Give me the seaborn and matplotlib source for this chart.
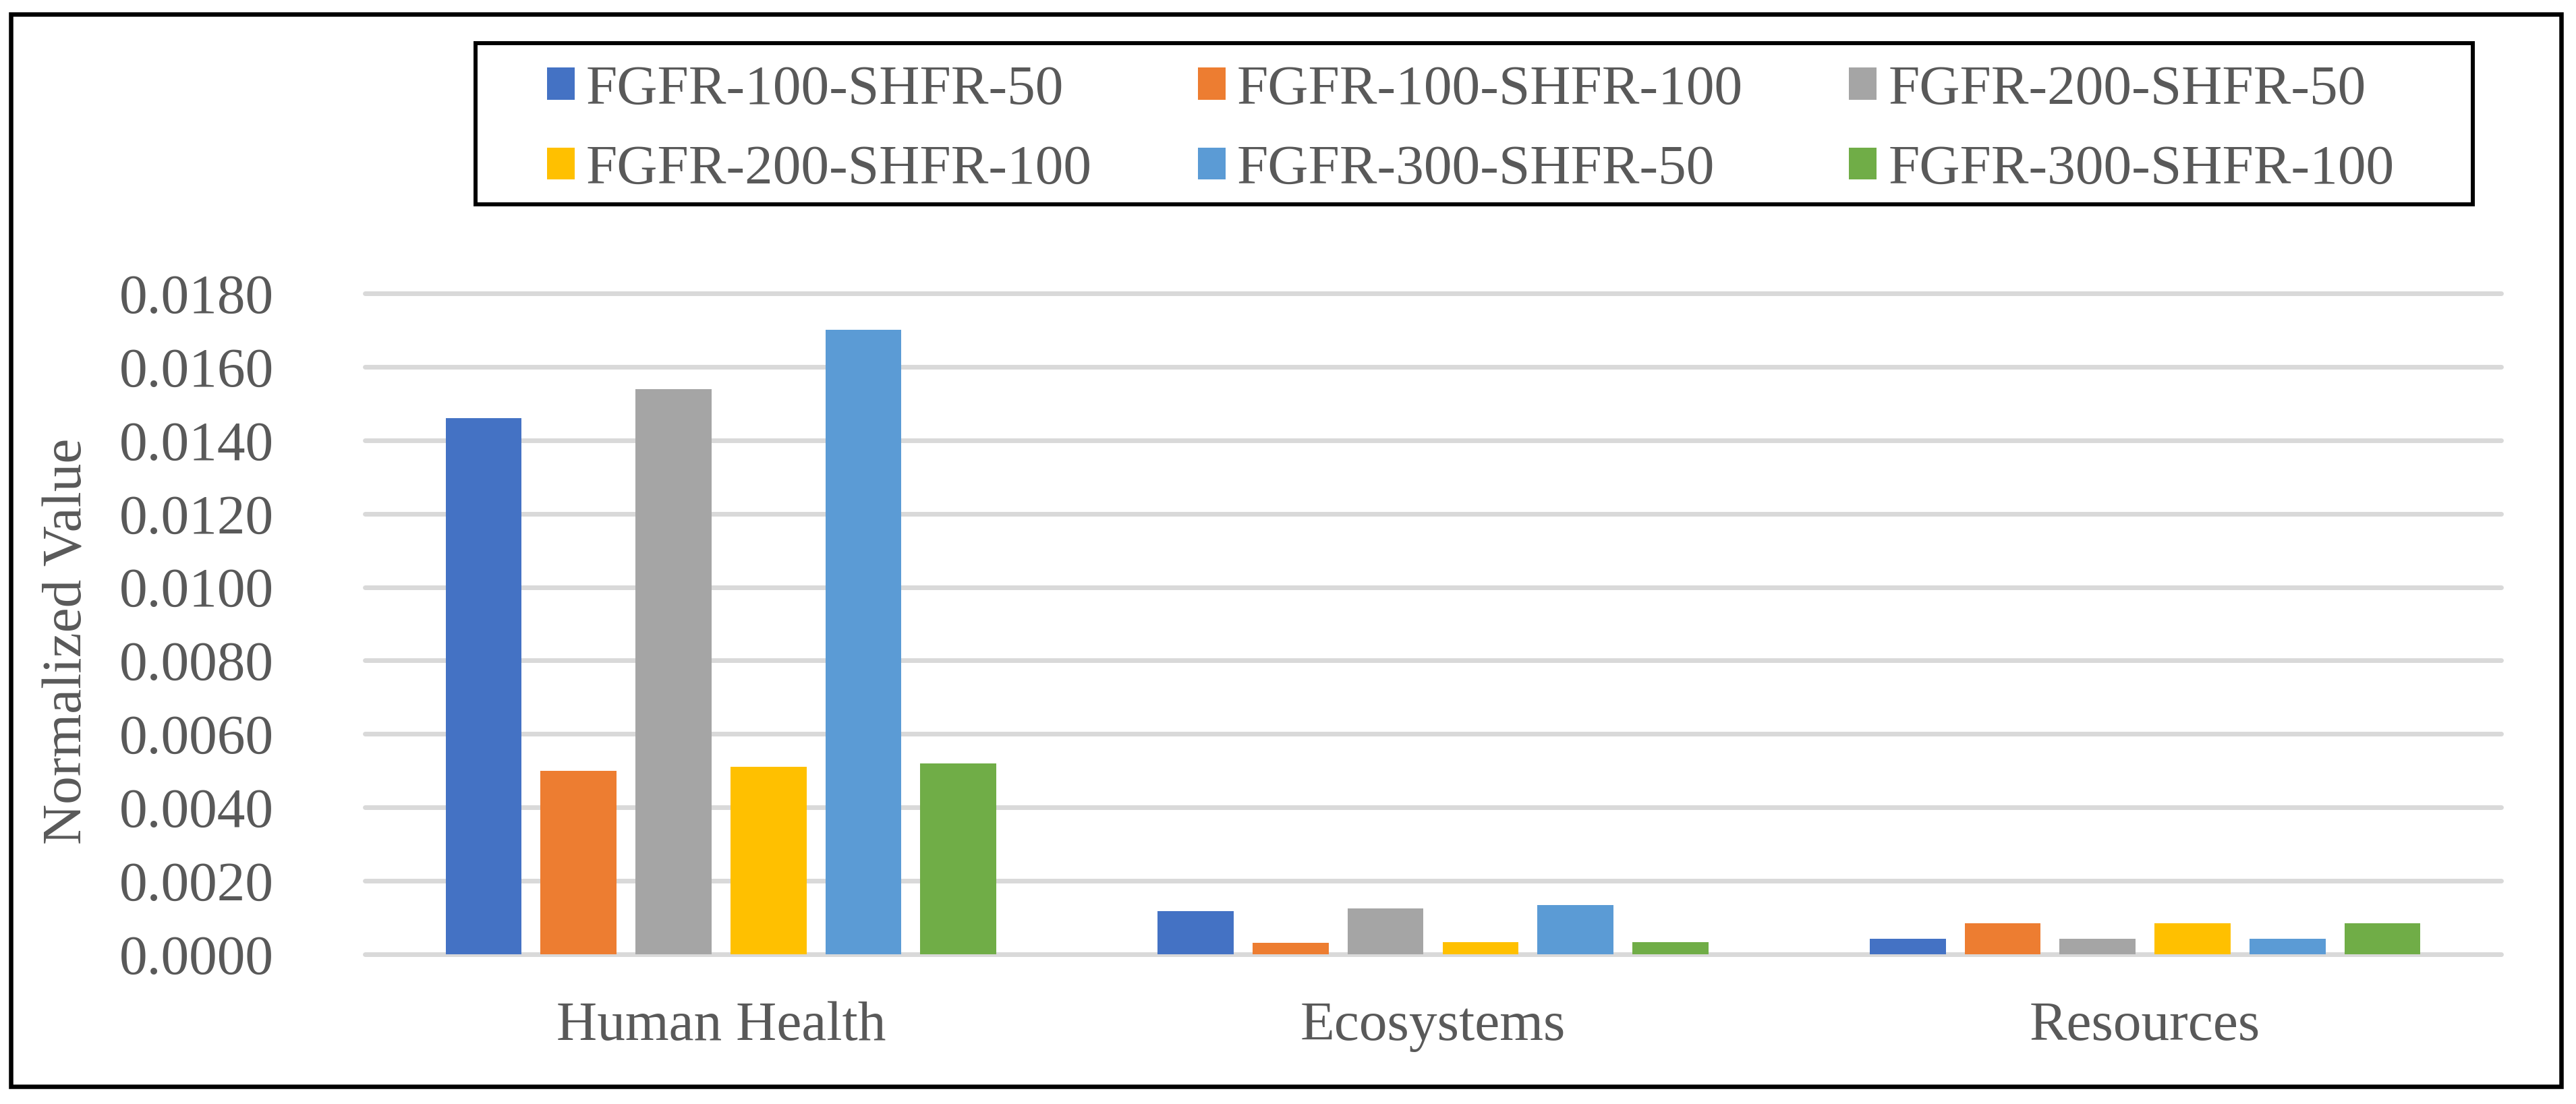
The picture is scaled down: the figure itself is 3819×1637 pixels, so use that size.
import pandas as pd
import matplotlib.pyplot as plt
import seaborn as sns
from matplotlib.patches import Rectangle
from matplotlib.ticker import FormatStrFormatter

# data
categories = ['Human Health', 'Ecosystems', 'Resources']
series = ['FGFR-100-SHFR-50', 'FGFR-100-SHFR-100', 'FGFR-200-SHFR-50',
          'FGFR-200-SHFR-100', 'FGFR-300-SHFR-50', 'FGFR-300-SHFR-100']
human_health = [0.0146, 0.0050, 0.0154, 0.0051, 0.0170, 0.0052]
ecosystems = [0.00118, 0.00031, 0.00124, 0.00033, 0.00135, 0.00033]
resources = [0.00042, 0.00084, 0.00042, 0.00084, 0.00042, 0.00084]
colors = ['#4472C4', '#ED7D31', '#A5A5A5', '#FFC000', '#5B9BD5', '#70AD47']

#long form table
rows = []
for cat, vals in zip(categories, [human_health, ecosystems, resources]):
    for s, v in zip(series, vals):
        rows.append({'category': cat, 'series': s, 'value': v})
df = pd.DataFrame(rows)

sns.set_theme(style='white')
plt.rcParams['font.family'] = ['Liberation Serif', 'DejaVu Serif']
grey = '#595959'
fs = 60

W, H = 3819, 1637
fig = plt.figure(figsize=(W / 100, H / 100), dpi=100)
ax = fig.add_axes([541 / W, 1 - 1415 / H, (3708 - 541) / W, (1415 - 435) / H])

sns.barplot(data=df, x='category', y='value', hue='series', order=categories,
            hue_order=series, palette=colors, saturation=1, width=0.8, gap=0.2,
            linewidth=0, ax=ax, zorder=3)

ax.set_ylim(0, 0.018)
ax.set_xlim(-0.5, 2.5)
ax.set_yticks([i * 0.002 for i in range(10)])
ax.yaxis.set_major_formatter(FormatStrFormatter('%.4f'))
ax.yaxis.grid(True, color='#D9D9D9', linewidth=5)
ax.set_axisbelow(True)
for gl in ax.get_ygridlines():
    gl.set_clip_on(False)
for sp in ax.spines.values():
    sp.set_visible(False)
ax.tick_params(axis='y', length=0, pad=97, labelsize=fs, labelcolor=grey)
ax.tick_params(axis='x', length=0, pad=50, labelsize=fs, labelcolor=grey)
ax.set_xlabel('')
ax.set_ylabel('Normalized Value', fontsize=fs, color=grey)
ax.yaxis.set_label_coords(-0.127, 0.474)

# legend outside, on top, filled row by row
handles, labels = ax.get_legend_handles_labels()
ax.get_legend().remove()
order = [0, 3, 1, 4, 2, 5]
fig.legend([handles[i] for i in order], [labels[i] for i in order], ncol=3,
           loc='center left', bbox_to_anchor=(769 / W, 1 - 193 / H), frameon=False,
           fontsize=fs, labelcolor=grey, handlelength=0.5, handleheight=0.5,
           handletextpad=0.2, columnspacing=1.88, labelspacing=0.52, borderpad=0)
fig.patches.append(Rectangle((705 / W, 1 - 303 / H), (3666 - 705) / W, (303 - 64) / H,
                             transform=fig.transFigure, fill=False,
                             edgecolor='black', linewidth=4.3))

# outer frame
fig.patches.append(Rectangle((16 / W, 1 - 1611 / H), (3797 - 16) / W, (1611 - 21) / H,
                             transform=fig.transFigure, fill=False,
                             edgecolor='black', linewidth=4.7))

fig.savefig('out.png', dpi=100)
